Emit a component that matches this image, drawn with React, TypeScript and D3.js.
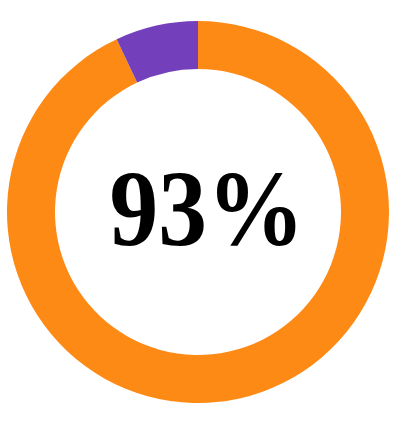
import * as d3 from "d3";
import { useEffect, useRef } from "react";

const labels = ["Yes", "No"];
const values = [93, 7];
const colors = ["#fe8a16", "#743fbb"];
const centerText = "93%";

const App = () => {
  const svgRef = useRef<SVGSVGElement | null>(null);
  const w = 409;
  const h = 428;
  const cx = 198;
  const cy = 212;
  const outer = 191;
  const inner = 143;

  useEffect(() => {
    if (!svgRef.current) return;
    const svg = d3.select(svgRef.current);
    svg.selectAll("*").remove();

    const data = labels.map((l, i) => ({ label: l, value: values[i], color: colors[i] }));
    const pie = d3.pie<{ label: string; value: number; color: string }>()
      .sort(null)
      .value(d => d.value);
    const arc = d3.arc<d3.PieArcDatum<{ label: string; value: number; color: string }>>()
      .innerRadius(inner)
      .outerRadius(outer);

    const g = svg.append("g").attr("transform", `translate(${cx},${cy})`);
    g.selectAll("path")
      .data(pie(data))
      .enter().append("path")
      .attr("d", arc)
      .attr("fill", d => d.data.color);

    // big centred label
    g.append("text")
      .attr("x", 9)
      .attr("y", 33)
      .attr("text-anchor", "middle")
      .attr("font-family", "'Liberation Serif', serif")
      .attr("font-weight", "bold")
      .attr("font-size", 107)
      .attr("textLength", 195)
      .attr("lengthAdjust", "spacingAndGlyphs")
      .attr("fill", "#000")
      .text(centerText);
  }, []);

  return (
    <svg
      ref={svgRef}
      width={w}
      height={h}
      style={{ position: "absolute", left: 0, top: 0, background: "#fff" }}
    />
  );
};

export default App;
